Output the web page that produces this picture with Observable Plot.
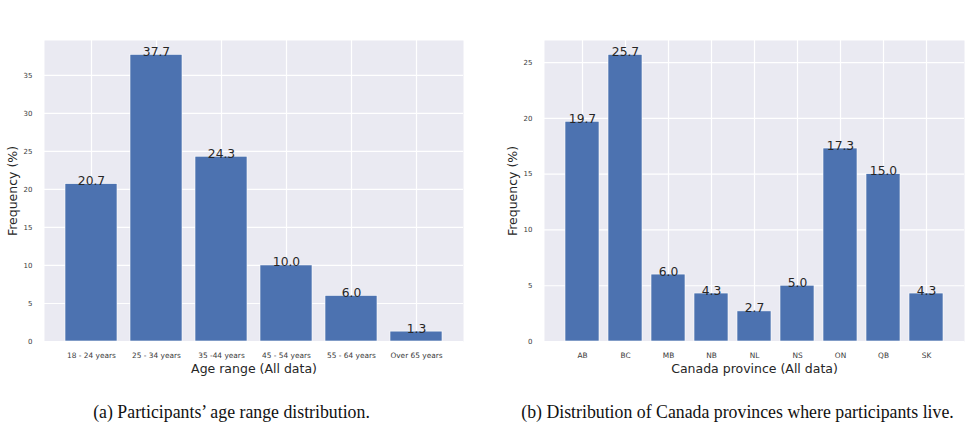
<!DOCTYPE html>
<html><head><meta charset="utf-8">
<script src="https://cdn.jsdelivr.net/npm/d3@7"></script>
<script src="https://cdn.jsdelivr.net/npm/@observablehq/plot@0.6"></script>
<style>
body{margin:0;background:#fff;}
#wrap{position:relative;width:970px;height:427px;overflow:hidden;}
#left,#right{position:absolute;top:0;}
#left{left:0}
#right{left:485px}
svg{overflow:visible}
</style></head><body>
<div id="wrap"><div id="left"></div><div id="right"></div></div>
<script>
const ageRanges = ["18 - 24 years", "25 - 34 years", "35 -44 years", "45 - 54 years", "55 - 64 years", "Over 65 years"];
const agePercent = [20.7, 37.7, 24.3, 10.0, 6.0, 1.3];
const provinces = ["AB", "BC", "MB", "NB", "NL", "NS", "ON", "QB", "SK"];
const provincePercent = [19.7, 25.7, 6.0, 4.3, 2.7, 5.0, 17.3, 15.0, 4.3];
const ageYTicks = [0, 5, 10, 15, 20, 25, 30, 35];
const provinceYTicks = [0, 5, 10, 15, 20, 25];
const yLabel = "Frequency (%)";
const ageXLabel = "Age range (All data)";
const provinceXLabel = "Canada province (All data)";
const ageCaption = "(a) Participants\u2019 age range distribution.";
const provinceCaption = "(b) Distribution of Canada provinces where participants live.";

function panel({cats, vals, yTicks, xLabel, caption, width, marginLeft, marginRight, captionDx}) {
  const data = cats.map((c, i) => ({cat: c, val: vals[i]}));
  const n = cats.length;
  return Plot.plot({
    width, height: 427, marginTop: 40, marginBottom: 86, marginLeft, marginRight,
    style: {fontFamily: "DejaVu Sans", background: "transparent", overflow: "visible"},
    x: {type: "band", domain: cats, paddingInner: 0.2, paddingOuter: 0.05 * (n - 0.2), align: 0.5, label: null},
    y: {domain: [0, d3.max(vals) * 1.05], label: null},
    marks: [
      Plot.frame({fill: "#EAEAF2", stroke: "none"}),
      Plot.gridY(yTicks, {stroke: "white", strokeOpacity: 1, strokeWidth: 1.2}),
      Plot.gridX(cats, {stroke: "white", strokeOpacity: 1, strokeWidth: 1.2}),
      Plot.barY(data, {x: "cat", y: "val", fill: "#4C72B0", stroke: "white", strokeWidth: 0.6}),
      Plot.text(data, {x: "cat", y: "val", text: d => d.val.toFixed(1), lineAnchor: "bottom", dy: 1, fontSize: 12.3, fill: "#262626"}),
      Plot.axisY(yTicks, {tickSize: 0, tickPadding: 12, fontSize: 7, fill: "#3a3a3a", label: null}),
      Plot.axisX(cats, {tickSize: 0, tickPadding: 11, fontSize: 7.4, fill: "#3a3a3a", label: null}),
      Plot.text([xLabel], {text: d => d, frameAnchor: "bottom", textAnchor: "middle", lineAnchor: "bottom", dy: 31.5, fontSize: 12.5, fill: "#262626"}),
      Plot.text([yLabel], {text: d => d, frameAnchor: "left", rotate: -90, textAnchor: "middle", lineAnchor: "bottom", dx: -27.5, fontSize: 12.5, fill: "#262626"}),
      Plot.text([caption], {text: d => d, frameAnchor: "bottom", textAnchor: "middle", lineAnchor: "bottom", dy: 76, dx: captionDx, fontSize: 17.8, fontFamily: "Liberation Serif", fill: "#111"})
    ]
  });
}

document.getElementById("left").appendChild(panel({
  cats: ageRanges, vals: agePercent, yTicks: ageYTicks, xLabel: ageXLabel, caption: ageCaption,
  width: 485, marginLeft: 44, marginRight: 22, captionDx: -22.5
}));
document.getElementById("right").appendChild(panel({
  cats: provinces, vals: provincePercent, yTicks: provinceYTicks, xLabel: provinceXLabel, caption: provinceCaption,
  width: 485, marginLeft: 59, marginRight: 6, captionDx: -17
}));
</script>
</body></html>
